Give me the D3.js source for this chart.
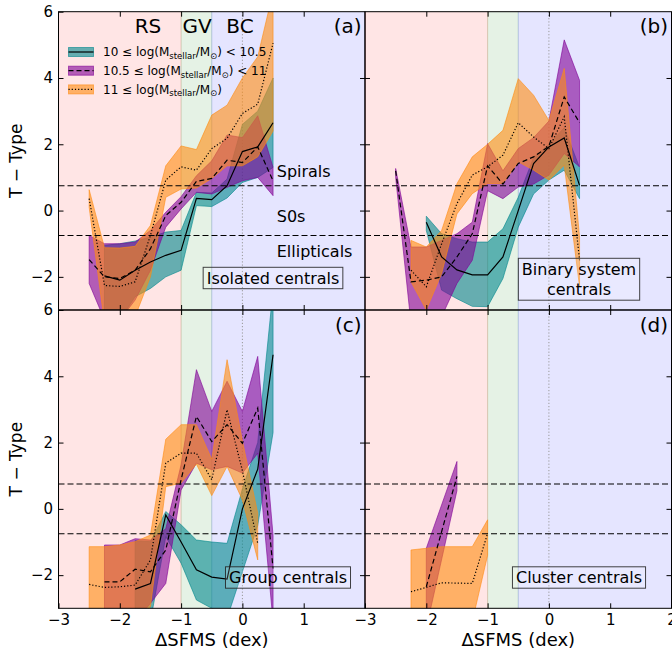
<!DOCTYPE html>
<html>
<head>
<meta charset="utf-8">
<script src="https://cdn.jsdelivr.net/npm/d3@7"></script>
<style>
  body { margin: 0; background: #fff; }
  svg { display: block; }
  text { font-family: "DejaVu Sans", sans-serif; }
</style>
</head>
<body>
<svg id="fig" width="672" height="652"></svg>
<script>
// rows are [dSFMS, mean T-type, lower, upper]
// isolated centrals
let isoLow = [[-2.25, -1.97, -3.3, -1.05], [-2, -2.1, -3.3, -1.0], [-1.75, -1.8, -2.6, -0.92], [-1.5, -1.55, -2.35, -0.8],
    [-1.25, -1.35, -2.0, -0.65], [-1, -1.2, -1.8, -0.6], [-0.75, 0.37, 0.15, 0.55], [-0.5, 0.33, 0.12, 0.53],
    [-0.25, 0.75, 0.38, 0.95], [0, 1.78, 0.85, 2.6], [0.25, 1.92, 1.0, 3.0], [0.5, 2.65, 1.3, 4.0]];
let isoMid = [[-2.5, -1.48, -2.2, -0.75], [-2.25, -2.0, -3.3, -1.0], [-2, -2.05, -3.3, -1.0], [-1.75, -1.8, -2.7, -0.95],
    [-1.5, -1.15, -1.8, -0.6], [-1.25, -0.15, -0.5, -0.05], [-1, 0.25, 0.05, 0.42], [-0.75, 0.88, 0.55, 1.05],
    [-0.5, 0.97, 0.5, 1.5], [-0.25, 1.52, 0.7, 2.28], [0, 1.45, 0.9, 2.2], [0.25, 1.92, 1.0, 2.86], [0.5, 0.9, 0.45, 1.3]];
let isoHigh = [[-2.5, 0.36, 0.1, 0.63], [-2.25, -2.26, -3.4, -1.12], [-2, -2.29, -3.4, -1.13], [-1.75, -2.15, -3.2, -1.08],
    [-1.5, -0.75, -2.0, -0.45], [-1.25, 0.92, 0.4, 1.35], [-1, 1.32, 0.65, 1.95], [-0.75, 1.22, 0.68, 1.84],
    [-0.5, 1.87, 0.97, 2.88], [-0.25, 2.18, 1.35, 3.18], [0, 2.93, 1.35, 4.0], [0.25, 3.21, 1.62, 4.64], [0.5, 5.05, 2.4, 6.6]];
// binary system centrals
let binLow = [[-2, -0.35, -0.6, -0.17], [-1.75, -1.4, -2.4, -0.7], [-1.5, -1.79, -2.66, -0.85], [-1.25, -1.94, -2.89, -0.95],
    [-1, -1.94, -2.9, -0.95], [-0.75, -1.4, -2.05, -0.55], [-0.5, 0.0, -0.5, 0.4], [-0.25, 1.42, 0.5, 1.6],
    [0, 1.92, 0.92, 2.0], [0.25, 2.19, 1.22, 2.5], [0.5, 0.76, 0.36, 1.3]];
let binMid = [[-2.5, 1.2, 1.0, 1.27], [-2.25, -2.15, -3.4, -1.1], [-2, -2.1, -3.4, -1.1], [-1.75, -2.0, -3.2, -0.9],
    [-1.5, -1.4, -2.2, -0.7], [-1.25, -0.7, -1.5, -0.35], [-1, 1.35, 0.6, 2.02], [-0.75, 0.8, 0.36, 1.2],
    [-0.5, 1.42, 0.71, 1.87], [-0.25, 1.62, 0.8, 2.2], [0, 1.94, 1.07, 2.7], [0.25, 3.43, 1.72, 5.15], [0.5, 2.65, 1.32, 3.93]];
let binHigh = [[-2.25, -1.8, -2.15, -0.9], [-2, -2.3, -3.0, -1.1], [-1.75, -1.0, -1.9, -0.6], [-1.5, 0.21, -0.1, 0.81],
    [-1.25, 1.07, 0.51, 1.62], [-1, 1.32, 0.82, 2.0], [-0.75, 1.67, 0.81, 2.42], [-0.5, 2.65, 1.47, 3.98],
    [-0.25, 2.22, 1.22, 3.48], [0, 1.87, 0.92, 2.72], [0.25, 2.83, 1.37, 4.29], [0.5, -1.5, -2.3, -0.8]];
// group centrals
let grpLow = [[-1.75, -2.42, -3.4, -0.96], [-1.5, -2.25, -3.4, -0.99], [-1.25, -0.18, -0.84, -0.08], [-1, -1.0, -1.64, -0.48],
    [-0.75, -1.84, -2.75, -0.94], [-0.5, -2.06, -3.0, -1.0], [-0.25, -2.12, -3.3, -1.04], [0, 0.0, -1.9, 0.6],
    [0.25, 1.2, -0.5, 2.0], [0.5, 4.65, 2.3, 6.6]];
let grpMid = [[-2.25, -2.2, -3.4, -1.09], [-2, -2.2, -3.4, -1.09], [-1.75, -1.82, -3.4, -0.9], [-1.5, -1.9, -2.85, -0.94],
    [-1.25, -1.24, -2.25, -0.6], [-1, 0.88, 0.57, 1.33], [-0.75, 2.79, 1.38, 4.2], [-0.5, 2.03, 1.18, 2.94],
    [-0.25, 2.54, 1.28, 3.85], [0, 1.98, 1.08, 2.94], [0.25, 3.04, 1.68, 4.6], [0.5, -1.8, -3.4, -0.8]];
let grpHigh = [[-2.5, -2.28, -3.4, -1.14], [-2.25, -2.37, -3.4, -1.14], [-2, -2.35, -3.4, -1.09], [-1.75, -2.3, -3.4, -0.99],
    [-1.5, -1.54, -2.95, -0.79], [-1.25, 1.38, 0.67, 2.1], [-1, 1.68, 0.78, 2.54], [-0.75, 1.68, 1.35, 2.54],
    [-0.5, 0.88, 0.4, 1.5], [-0.25, 2.99, 1.28, 4.5], [0, 1.15, 0.27, 2.05], [0.25, -1.04, -1.54, -0.13]];
// cluster centrals
let cluLow = [];
let cluMid = [[-2, -2.35, -3.6, -1.19], [-1.5, 0.98, 0.55, 1.43]];
let cluHigh = [[-2.25, -2.5, -3.4, -1.24], [-2, -2.37, -3.4, -1.19], [-1.75, -2.23, -3.4, -1.14], [-1.5, -2.24, -3.4, -1.14],
    [-1.25, -2.25, -3.4, -1.14], [-1, -0.74, -1.4, -0.33]];

let massLo = ["10", "10.5", "11"];
let massHi = ["10.5", "11", null];
let zoneNames = ["RS", "GV", "BC"];
let zoneEdges = [-3, -1, -0.5, 2];
let typeCuts = [0.75, -0.75];
let typeNames = ["Spirals", "S0s", "Ellipticals"];
let panelTags = ["(a)", "(b)", "(c)", "(d)"];
let envNames = [["Isolated centrals"], ["Binary system", "centrals"], ["Group centrals"], ["Cluster centrals"]];

let colors = ["#00878c", "#800096", "#ff8c10"];
let dashes = [null, "5,3", "1.2,2"];
let zoneColors = ["red", "green", "blue"];

let panels = [
    { series: [isoLow, isoMid, isoHigh], col: 0, row: 0, boxX: 273, boxY: 283.5 },
    { series: [binLow, binMid, binHigh], col: 1, row: 0, boxX: 579, boxY: 274.5 },
    { series: [grpLow, grpMid, grpHigh], col: 0, row: 1, boxX: 288, boxY: 583 },
    { series: [cluLow, cluMid, cluHigh], col: 1, row: 1, boxX: 579, boxY: 583 }
];

let padLeft = 58.5, padTop = 11.7, pw = 306.5, ph = 298.3;
let svg = d3.select('#fig');
svg.append('rect').attr('width', 672).attr('height', 652).attr('fill', '#fff');

panels.forEach(function (p, i) {
    let x0 = padLeft + p.col * pw, y0 = padTop + p.row * ph;
    let x = d3.scaleLinear().domain([-3, 2]).range([x0, x0 + pw]);
    let y = d3.scaleLinear().domain([-3, 6]).range([y0 + ph, y0]);
    let g = svg.append('g');

    svg.append('clipPath').attr('id', 'clip' + i)
        .append('rect').attr('x', x0).attr('y', y0).attr('width', pw).attr('height', ph);
    let inner = g.append('g').attr('clip-path', 'url(#clip' + i + ')');

    // background zones
    inner.selectAll('rect.zone')
        .data(zoneColors)
        .join('rect')
        .attr('class', 'zone')
        .attr('x', function (d, k) { return x(zoneEdges[k]); })
        .attr('y', y0 - 2)
        .attr('width', function (d, k) { return x(zoneEdges[k + 1]) - x(zoneEdges[k]); })
        .attr('height', ph + 4)
        .attr('fill', function (d) { return d; })
        .attr('fill-opacity', 0.1)
        .attr('stroke', function (d) { return d; })
        .attr('stroke-opacity', 0.12);

    inner.append('line')
        .attr('x1', x(0)).attr('x2', x(0)).attr('y1', y0).attr('y2', y0 + ph)
        .attr('stroke', '#999').attr('stroke-width', 1).attr('stroke-dasharray', '1.2,2');

    let area = d3.area()
        .x(function (d) { return x(d[0]); })
        .y0(function (d) { return y(d[2]); })
        .y1(function (d) { return y(d[3]); });
    let line = d3.line()
        .x(function (d) { return x(d[0]); })
        .y(function (d) { return y(d[1]); });

    p.series.forEach(function (s, k) {
        if (!s.length) return;
        inner.append('path')
            .attr('d', area(s))
            .attr('fill', colors[k]).attr('fill-opacity', 0.6)
            .attr('stroke', colors[k]).attr('stroke-opacity', 0.6).attr('stroke-width', 1);
    });
    p.series.forEach(function (s, k) {
        if (!s.length) return;
        inner.append('path')
            .attr('d', line(s))
            .attr('fill', 'none').attr('stroke', '#000').attr('stroke-width', 1.2)
            .attr('stroke-dasharray', dashes[k]);
    });

    inner.selectAll('line.cut')
        .data(typeCuts)
        .join('line')
        .attr('class', 'cut')
        .attr('x1', x0).attr('x2', x0 + pw)
        .attr('y1', function (d) { return y(d); })
        .attr('y2', function (d) { return y(d); })
        .attr('stroke', '#000').attr('stroke-width', 1.1).attr('stroke-dasharray', '6,3');

    // axes with inward ticks
    let fmt = d3.format('d');
    let bottom = g.append('g').attr('transform', 'translate(0,' + (y0 + ph) + ')')
        .call(d3.axisBottom(x)
            .tickValues(p.row == 1 ? (p.col == 0 ? [-3, -2, -1, 0, 1] : [-3, -2, -1, 0, 1, 2]) : [-2, -1, 0, 1])
            .tickSize(-5).tickPadding(6.5)
            .tickFormat(p.row == 1 ? fmt : function () { return ''; }));
    let topAx = g.append('g').attr('transform', 'translate(0,' + y0 + ')')
        .call(d3.axisTop(x).tickValues([-2, -1, 0, 1]).tickSize(-5).tickFormat(function () { return ''; }));
    let leftAx = g.append('g').attr('transform', 'translate(' + x0 + ',0)')
        .call(d3.axisLeft(y)
            .tickValues(p.col == 0 ? [-2, 0, 2, 4, 6] : [-2, 0, 2, 4])
            .tickSize(-5).tickPadding(5.5)
            .tickFormat(p.col == 0 ? fmt : function () { return ''; }));
    let rightAx = g.append('g').attr('transform', 'translate(' + (x0 + pw) + ',0)')
        .call(d3.axisRight(y).tickValues([-2, 0, 2, 4]).tickSize(-5).tickFormat(function () { return ''; }));
    [bottom, topAx, leftAx, rightAx].forEach(function (a) {
        a.select('.domain').remove();
        a.attr('font-size', 15).attr('font-family', '"DejaVu Sans", sans-serif');
        a.selectAll('line').attr('stroke', '#000');
        a.selectAll('text').attr('fill', '#000');
    });

    g.append('rect')
        .attr('x', x0).attr('y', y0).attr('width', pw).attr('height', ph)
        .attr('fill', 'none').attr('stroke', '#000').attr('stroke-width', 1);

    g.append('text')
        .attr('x', x0 + pw - 3.5).attr('y', y0 + 21.5)
        .attr('text-anchor', 'end').attr('font-size', 20)
        .text(panelTags[i]);

    // environment box
    let names = envNames[i];
    let box = g.append('g');
    let rect = box.append('rect');
    let label = box.append('text')
        .attr('text-anchor', 'middle').attr('font-size', 16);
    names.forEach(function (t, k) {
        label.append('tspan').attr('x', p.boxX).attr('y', p.boxY + k * 20.5).text(t);
    });
    let bb = label.node().getBBox();
    rect.attr('x', bb.x - 3.5).attr('y', bb.y - 1.2).attr('width', bb.width + 7).attr('height', bb.height + 2.4)
        .attr('fill', '#fff').attr('fill-opacity', 0.15)
        .attr('stroke', '#222').attr('stroke-opacity', 0.85).attr('stroke-width', 1);

    if (p.col == 0) {
        g.append('text')
            .attr('transform', 'translate(22,' + (y0 + ph / 2) + ') rotate(-90)')
            .attr('text-anchor', 'middle').attr('font-size', 17)
            .text('T − Type');
    }
    if (p.row == 1) {
        g.append('text')
            .attr('x', x0 + pw / 2).attr('y', 646)
            .attr('text-anchor', 'middle').attr('font-size', 18)
            .text('ΔSFMS (dex)');
    }

    if (i == 0) {
        let zoneLabelX = [-1.54, -0.74, -0.04];
        g.selectAll('text.zone')
            .data(zoneNames)
            .join('text')
            .attr('class', 'zone')
            .attr('x', function (d, k) { return x(zoneLabelX[k]); })
            .attr('y', y0 + 21.5)
            .attr('text-anchor', 'middle').attr('font-size', 20)
            .text(function (d) { return d; });

        let typeY = [1.0, -0.35, -1.4];
        g.selectAll('text.type')
            .data(typeNames)
            .join('text')
            .attr('class', 'type')
            .attr('x', x(0.56))
            .attr('y', function (d, k) { return y(typeY[k]); })
            .attr('font-size', 16)
            .text(function (d) { return d; });

        // legend
        let lg = g.append('g');
        [0, 1, 2].forEach(function (k) {
            let cy = 52 + k * 18.7;
            lg.append('rect')
                .attr('x', 68.5).attr('y', cy - 4.5).attr('width', 25).attr('height', 9)
                .attr('fill', colors[k]).attr('fill-opacity', 0.6)
                .attr('stroke', colors[k]).attr('stroke-opacity', 0.6);
            lg.append('line')
                .attr('x1', 68.5).attr('x2', 93.5).attr('y1', cy).attr('y2', cy)
                .attr('stroke', '#000').attr('stroke-width', 1.2)
                .attr('stroke-dasharray', dashes[k]);
            let t = lg.append('text').attr('x', 103).attr('y', cy + 4.3).attr('font-size', 12);
            t.append('tspan').text(massLo[k] + ' ≤ log(M');
            t.append('tspan').attr('font-size', 8.5).attr('dy', 2.5).text('stellar');
            t.append('tspan').attr('dy', -2.5).text('/M');
            t.append('tspan').attr('font-size', 8.5).attr('dy', 2.5).text('⊙');
            t.append('tspan').attr('dy', -2.5).text(')' + (massHi[k] ? ' < ' + massHi[k] : ''));
        });
    }
});
</script>
</body>
</html>
